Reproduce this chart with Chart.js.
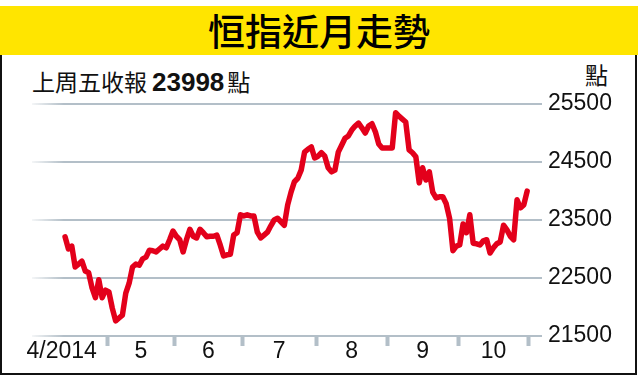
<!DOCTYPE html>
<html>
<head>
<meta charset="utf-8">
<script src="https://cdn.jsdelivr.net/npm/chart.js@4"></script>
<style>
  html, body { margin: 0; padding: 0; background: #fff; }
  body { width: 638px; height: 376px; position: relative; overflow: hidden; }
  #band { position: absolute; left: 0; top: 6px; width: 638px; height: 49px; background: #ffe500;
          font-family: "Noto Sans CJK TC", sans-serif; font-size: 37px; font-weight: 500;
          text-align: center; line-height: 49px; color: #000; }
  #box { position: absolute; left: 0; top: 55px; width: 633px; height: 318px;
         border-left: 2px solid #111; border-right: 2px solid #111; border-bottom: 2px solid #111; }
  #sub { position: absolute; left: 32px; top: 64px; font-family: "Noto Sans CJK TC", sans-serif;
         font-size: 23px; color: #111; white-space: nowrap; }
  #sub b { font-family: "Liberation Sans", Arial, sans-serif; font-size: 26px; font-weight: bold;
           margin-left: 5px; margin-right: 3px; }
  #unit { position: absolute; left: 585px; top: 57px; font-family: "Noto Sans CJK TC", sans-serif;
          font-size: 23px; color: #111; }
  canvas { position: absolute; left: 0; top: 0; }
</style>
</head>
<body>
<div id="band">恒指近月走勢</div>
<div id="box"></div>
<div id="sub"></div>
<div id="unit">點</div>
<canvas id="c" width="638" height="376"></canvas>
<script>
// HSI daily closes, 10 Apr 2014 -> 31 Oct 2014 (one value per trading day)
const closes = [
  23210, 23000, 23050, 22690, 22740, 22790, 22620, 22590, 22330, 22160,
  22470, 22160, 22290, 22260, 21980, 21760, 21810, 21860, 22240, 22410,
  22690, 22740, 22720, 22830, 22860, 22980, 22970, 22950, 23000, 23050,
  23020, 23160, 23310, 23220, 23160, 22950, 23160, 23340, 23220, 23190,
  23340, 23280, 23210, 23220, 23220, 23240, 23070, 22880, 22900, 22910,
  23240, 23280, 23590, 23570, 23590, 23570, 23570, 23290, 23190, 23240,
  23290, 23400, 23500, 23530, 23470, 23410, 23760, 23980, 24160, 24220,
  24360, 24670, 24720, 24760, 24570, 24600, 24660, 24600, 24400, 24330,
  24360, 24670, 24790, 24910, 24950, 25050, 25120, 25170, 25090, 25000,
  25120, 25160, 25020, 24810, 24740, 24740, 24740, 24740, 25350, 25290,
  25240, 25190, 24710, 24660, 24590, 24140, 24400, 24190, 24330, 23980,
  23880, 23900, 23900, 23780, 23530, 22970, 23050, 23070, 23430, 23280,
  23590, 23100, 23090, 23070, 23140, 23160, 22930, 23020, 23090, 23120,
  23410, 23330, 23220, 23160, 23850, 23710, 23760, 23998
];

// month boundaries (in trading-day index) and label positions
const monthEdges = [12.5, 32.5, 52.5, 74.5, 95.5, 116.5, 137.5];
const monthLabels = ['4/2014', '5', '6', '7', '8', '9', '10'];
const monthCenters = [-1, 22.5, 42.5, 63.5, 85, 106, 127];
const yTicks = [21500, 22500, 23500, 24500, 25500];

const lastClose = closes[closes.length - 1];
document.getElementById('sub').innerHTML = '上周五收報<b>' + lastClose + '</b>點';

const points = closes.map((v, i) => ({x: i, y: v}));
const GRID = '#b3bfc8';

function gridColor(ctx) {
  const chart = ctx.chart;
  const area = chart.chartArea;
  if (!area) return GRID;
  let g = chart.ctx.createLinearGradient(area.left, 0, area.left + 32, 0);
  g.addColorStop(0, 'rgba(179,191,200,0.15)');
  g.addColorStop(1, GRID);
  return g;
}

new Chart(document.getElementById('c'), {
  type: 'line',
  data: {
    datasets: [{
      data: points,
      borderColor: '#e3001b',
      borderWidth: 5.5,
      pointRadius: 0,
      tension: 0,
      borderJoinStyle: 'round',
      borderCapStyle: 'round'
    }]
  },
  options: {
    responsive: false,
    animation: false,
    layout: { padding: { left: 32, top: 104, right: 0, bottom: 0 } },
    plugins: { legend: { display: false }, tooltip: { enabled: false } },
    scales: {
      x: {
        type: 'linear',
        min: -9.8,
        max: 141.4,
        afterFit: (s) => { s.height = 40; },
        afterBuildTicks: (s) => {
          let t = monthEdges.map(v => ({value: v}));
          monthCenters.forEach(v => t.push({value: v}));
          s.ticks = t;
        },
        border: { display: false },
        grid: {
          drawOnChartArea: false,
          drawTicks: true,
          tickLength: 10,
          tickWidth: 4,
          tickColor: (ctx) => monthEdges.includes(ctx.tick.value) ? GRID : 'rgba(0,0,0,0)'
        },
        ticks: {
          autoSkip: false,
          maxRotation: 0,
          padding: -8,
          color: '#111',
          font: { family: '"Liberation Sans", Arial, sans-serif', size: 23 },
          callback: (v) => {
            let k = monthCenters.indexOf(v);
            return k >= 0 ? monthLabels[k] : '';
          }
        }
      },
      y: {
        position: 'right',
        min: 21500,
        max: 25500,
        afterFit: (s) => { s.width = 96; },
        afterBuildTicks: (s) => { s.ticks = yTicks.map(v => ({value: v})); },
        border: { display: false },
        grid: { color: gridColor, lineWidth: 2, drawTicks: false },
        ticks: {
          padding: 6,
          color: '#111',
          font: { family: '"Liberation Sans", Arial, sans-serif', size: 23 },
          callback: (v) => String(v)
        }
      }
    }
  }
});
</script>
</body>
</html>
